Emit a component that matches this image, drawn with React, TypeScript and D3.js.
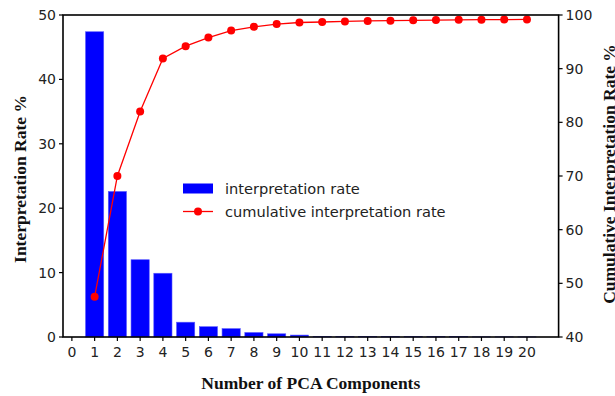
import React from "react";
import * as d3 from "d3";

const components = d3.range(1, 21);
const rates = [47.4, 22.6, 12.0, 9.9, 2.3, 1.6, 1.3, 0.7, 0.5, 0.3, 0.1, 0.1, 0.1, 0.05, 0.05, 0.05, 0.05, 0.03, 0.03, 0.02];
const cumulative = [47.5, 70.0, 82.0, 91.9, 94.2, 95.8, 97.1, 97.8, 98.3, 98.6, 98.7, 98.8, 98.9, 98.95, 99.0, 99.05, 99.1, 99.12, 99.15, 99.17];
const xTicks = d3.range(0, 21);
const leftTicks = [0, 10, 20, 30, 40, 50];
const rightTicks = [40, 50, 60, 70, 80, 90, 100];

const W = 615, H = 396;
const L = 63, R = 558.6, T = 15, B = 337;

export default function App() {
  const x = d3.scaleLinear().domain([-0.39, 21.39]).range([L, R]);
  const yL = d3.scaleLinear().domain([0, 50]).range([B, T]);
  const yR = d3.scaleLinear().domain([40, 100]).range([B, T]);
  const bw = x(0.8) - x(0);
  const line = d3.line<number>().x((_, i) => x(components[i])).y((d) => yR(d));
  const tickFont = "DejaVu Sans, sans-serif";
  const labelFont = "Liberation Serif, Times New Roman, serif";
  return (
    <svg width={W} height={H} style={{ position: "absolute", left: 0, top: 0 }}>
      <rect width={W} height={H} fill="white" />
      {rates.map((r, i) => (
        <rect key={i} x={x(components[i]) - bw / 2} y={yL(r)} width={bw} height={B - yL(r)} fill="#0000ff" stroke="#5a5aff" strokeWidth={0.6} />
      ))}
      <path d={line(cumulative) || ""} fill="none" stroke="#ff0000" strokeWidth={1.3} />
      {cumulative.map((c, i) => (
        <circle key={i} cx={x(components[i])} cy={yR(c)} r={4} fill="#ff0000" />
      ))}
      <rect x={L} y={T} width={R - L} height={B - T} fill="none" stroke="black" strokeWidth={1.6} />
      {xTicks.map((t) => (
        <g key={t}>
          <line x1={x(t)} x2={x(t)} y1={B} y2={B + 4} stroke="black" strokeWidth={1.2} />
          <text x={x(t)} y={B + 20} textAnchor="middle" fontFamily={tickFont} fontSize={14} fill="#222">{t}</text>
        </g>
      ))}
      {leftTicks.map((t) => (
        <g key={t}>
          <line x1={L - 4} x2={L} y1={yL(t)} y2={yL(t)} stroke="black" strokeWidth={1.2} />
          <text x={L - 7} y={yL(t)} dy="0.36em" textAnchor="end" fontFamily={tickFont} fontSize={14} fill="#222">{t}</text>
        </g>
      ))}
      {rightTicks.map((t) => (
        <g key={t}>
          <line x1={R} x2={R + 4} y1={yR(t)} y2={yR(t)} stroke="black" strokeWidth={1.2} />
          <text x={R + 7} y={yR(t)} dy="0.36em" textAnchor="start" fontFamily={tickFont} fontSize={14} fill="#222">{t}</text>
        </g>
      ))}
      <text x={(L + R) / 2} y={389} textAnchor="middle" fontFamily={labelFont} fontWeight="bold" fontSize={17.5} fill="#111">Number of PCA Components</text>
      <text transform={`translate(26,179) rotate(-90)`} textAnchor="middle" fontFamily={labelFont} fontWeight="bold" fontSize={17.5} fill="#111">Interpretation Rate %</text>
      <text transform={`translate(615,174) rotate(-90)`} textAnchor="middle" fontFamily={labelFont} fontWeight="bold" fontSize={17.5} fill="#111">Cumulative Interpretation Rate %</text>
      <rect x={183} y={183.5} width={30} height={10} fill="#0000ff" />
      <text x={225} y={188.5} dy="0.36em" fontFamily={tickFont} fontSize={14.6} fill="#222">interpretation rate</text>
      <line x1={183} x2={213} y1={211.5} y2={211.5} stroke="#ff0000" strokeWidth={1.3} />
      <circle cx={198} cy={211.5} r={4} fill="#ff0000" />
      <text x={225} y={211.5} dy="0.36em" fontFamily={tickFont} fontSize={14.6} fill="#222">cumulative interpretation rate</text>
    </svg>
  );
}
